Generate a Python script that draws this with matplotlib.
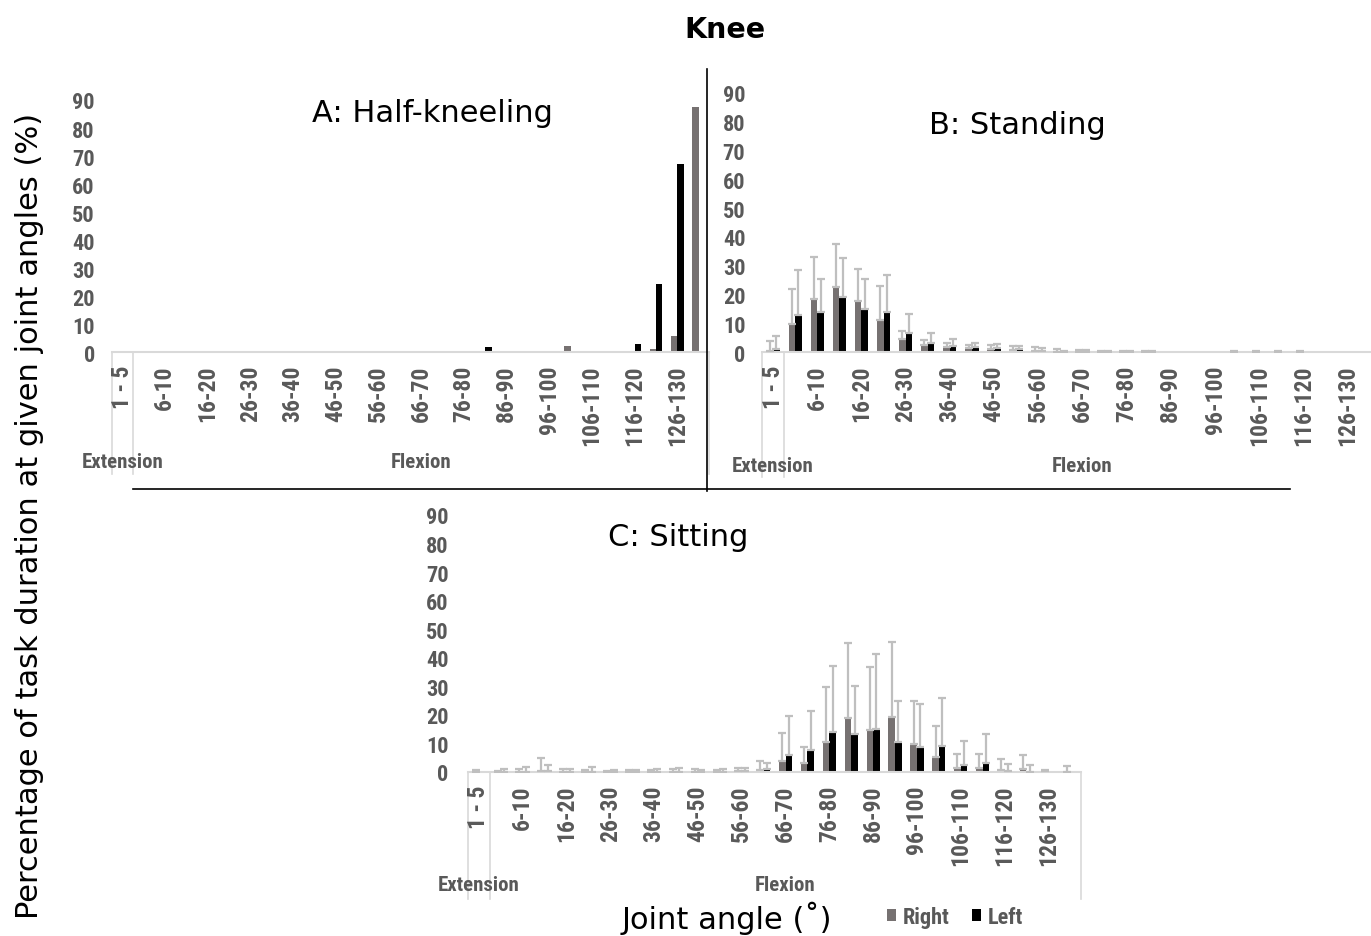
import numpy as np
import matplotlib
matplotlib.use("Agg")
import matplotlib.pyplot as plt
from matplotlib.lines import Line2D
from matplotlib import font_manager

# ---- categories: one extension bin followed by flexion bins ----
categories = ["1 - 5", "1-5", "6-10", "11-15", "16-20", "21-25", "26-30", "31-35",
              "36-40", "41-45", "46-50", "51-55", "56-60", "61-65", "66-70", "71-75",
              "76-80", "81-85", "86-90", "91-95", "96-100", "101-105", "106-110",
              "111-115", "116-120", "121-125", "126-130", "131-135"]
tick_labels = categories[0::2]
y_ticks = [0, 10, 20, 30, 40, 50, 60, 70, 80, 90]

# ---- A: half-kneeling (mean % of task duration) ----
kneel_right = [0, 0, 0, 0, 0, 0, 0, 0, 0, 0, 0, 0, 0, 0, 0, 0, 0, 0,
               0.3, 0.3, 0, 2.3, 0.3, 0.3, 0, 1.0, 5.7, 87.5]
kneel_left = [0, 0, 0, 0, 0, 0, 0, 0, 0, 0, 0, 0, 0, 0, 0, 0, 0, 2.0,
              0, 0, 0, 0, 0, 0, 3.0, 24.5, 67.2, 0]

# ---- B: standing (mean and SD) ----
stand_right = [0.5, 9.8, 18.5, 22.6, 17.6, 11.2, 4.4, 2.5, 1.9, 1.3, 1.1, 0.7, 0.2,
               0.1, 0.1, 0.05, 0.05, 0.05, 0, 0, 0, 0.05, 0.05, 0.05, 0.05, 0, 0, 0]
stand_right_sd = [3.3, 12.0, 14.5, 14.8, 11.2, 11.8, 3.0, 1.7, 1.1, 1.2, 1.3, 1.5, 1.7,
                  1.1, 0.7, 0.3, 0.3, 0.2, 0, 0, 0, 0.3, 0.3, 0.3, 0.3, 0, 0, 0]
stand_left = [1.0, 12.7, 14.0, 19.2, 15.1, 13.8, 6.7, 3.2, 2.2, 1.7, 1.4, 1.1, 0.5,
              0.1, 0.1, 0.1, 0.1, 0.1, 0, 0, 0, 0, 0, 0, 0, 0, 0, 0]
stand_left_sd = [4.4, 15.8, 11.3, 13.5, 10.2, 12.8, 6.5, 3.3, 2.3, 1.4, 1.4, 1.1, 1.0,
                 0.3, 0.6, 0.3, 0.3, 0.2, 0, 0, 0, 0, 0, 0, 0, 0, 0, 0]

# ---- C: sitting (mean and SD) ----
sit_right = [0.05, 0.05, 0.1, 0.5, 0.1, 0.1, 0.05, 0.1, 0.1, 0.1, 0.1, 0.1, 0.2, 0.8,
             3.9, 3.2, 10.6, 18.9, 14.7, 19.2, 9.9, 5.3, 1.5, 1.3, 0.6, 1.0, 0.3, 0.1]
sit_right_sd = [0.6, 0.2, 1.1, 4.5, 0.9, 0.6, 0.4, 0.6, 0.6, 0.9, 0.9, 0.6, 1.3, 3.2,
                9.7, 5.4, 19.0, 26.2, 21.9, 26.3, 14.8, 10.8, 4.7, 4.9, 3.9, 4.8, 0.3, 1.9]
sit_left = [0, 0.05, 0.1, 0.5, 0.1, 0.1, 0.05, 0.1, 0.1, 0.1, 0.1, 0.1, 0.5, 1.0,
            6.1, 7.7, 14.1, 13.4, 15.0, 10.6, 8.6, 9.0, 2.6, 3.3, 0.5, 0.1, 0, 0]
sit_left_sd = [0, 0.9, 1.8, 2.1, 0.9, 1.5, 0.5, 0.6, 1.0, 1.2, 0.5, 0.9, 1.0, 2.3,
               13.4, 13.8, 23.0, 16.8, 26.4, 14.4, 15.2, 17.0, 8.1, 9.9, 2.2, 2.2, 0, 0]

W, H = 1371, 937
RIGHT_C = "#767171"
LEFT_C = "#000000"
ERR_C = "#bfbfbf"
TXT_C = "#595959"
AXIS_C = "#d9d9d9"

# narrow bold face for axis labels; pick the first one that is installed
_available = {f.name for f in font_manager.fontManager.ttflist}
_condensed = ("Liberation Sans Narrow", "DejaVu Sans Condensed", "Roboto Condensed",
              "Open Sans Condensed")
_narrow_choice = [n for n in _condensed + ("Lato",) if n in _available]
NARROW = _narrow_choice[0] if _narrow_choice else "DejaVu Sans"
_k = 1.0 if NARROW in _condensed else 0.78
XTICK_SIZE = 17 * _k
YTICK_SIZE = 16 * _k
GROUP_SIZE = 15 * _k
LEGEND_SIZE = 16 * _k

fig = plt.figure(figsize=(W / 100, H / 100), dpi=100)
fig.patch.set_facecolor("white")


def add_px_axes(left, top, right, bottom):
    return fig.add_axes([left / W, 1 - bottom / H, (right - left) / W, (bottom - top) / H])


def draw_panel(ax, right, left, right_sd=None, left_sd=None, height_px=250,
               group_drop=110, line_drop=122, ytick_pad=11):
    x = np.arange(len(categories))
    right = np.asarray(right, float)
    left = np.asarray(left, float)
    bw = 0.3
    bars_r = ax.bar(x - bw / 2, right, width=bw, color=RIGHT_C, zorder=2, label="Right")
    bars_l = ax.bar(x + bw / 2, left, width=bw, color=LEFT_C, zorder=2, label="Left")
    for vals, sd, off in ((right, right_sd, -bw / 2), (left, left_sd, bw / 2)):
        if sd is None:
            continue
        sd = np.asarray(sd, float)
        m = sd > 0
        ax.errorbar(x[m] + off, vals[m], yerr=[np.zeros(m.sum()), sd[m]], fmt="none",
                    ecolor=ERR_C, elinewidth=1.6, capsize=2.6, capthick=1.6, zorder=3)
    ax.set_xlim(-0.5, len(categories) - 0.5)
    ax.set_ylim(0, 90)
    ax.set_yticks(y_ticks)
    ax.set_yticklabels([str(v) for v in y_ticks], family=NARROW, fontweight="bold",
                       fontsize=YTICK_SIZE, color=TXT_C)
    ax.set_xticks(np.arange(0, len(categories), 2))
    ax.set_xticklabels(tick_labels, rotation=90, family=NARROW, fontweight="bold",
                       fontsize=XTICK_SIZE, color=TXT_C, va="top", ha="center")
    ax.tick_params(axis="both", length=0)
    ax.tick_params(axis="y", pad=ytick_pad)
    ax.tick_params(axis="x", pad=9)
    for s in ("top", "right", "left"):
        ax.spines[s].set_visible(False)
    ax.spines["bottom"].set_color(AXIS_C)
    ax.spines["bottom"].set_linewidth(1.5)
    ax.set_facecolor("none")
    tr = ax.get_xaxis_transform()
    yl = -line_drop / height_px
    for xv in (-0.5, 0.5, len(categories) - 0.5):
        ax.add_line(Line2D([xv, xv], [0, yl], transform=tr, color=AXIS_C, lw=1.2,
                           clip_on=False, zorder=1))
    yg = -group_drop / height_px
    ax.text(0, yg, "Extension", transform=tr, ha="center", va="center", family=NARROW,
            fontweight="bold", fontsize=GROUP_SIZE, color=TXT_C, zorder=4)
    ax.text((1 + len(categories) - 1) / 2, yg, "Flexion", transform=tr, ha="center",
            va="center", family=NARROW, fontweight="bold", fontsize=GROUP_SIZE,
            color=TXT_C, zorder=4)
    return bars_r, bars_l


# Panel A
axA = add_px_axes(111.5, 101, 111.5 + 28 * 21.35, 353.3)
draw_panel(axA, kneel_right, kneel_left, height_px=252.3, group_drop=109, line_drop=122,
           ytick_pad=12)

# Panel B
axB = add_px_axes(762, 94, 762 + 28 * 22.1, 353)
draw_panel(axB, stand_right, stand_left, stand_right_sd, stand_left_sd, height_px=259,
           group_drop=113, line_drop=125, ytick_pad=12)

# Panel C
axC = add_px_axes(468, 516, 468 + 28 * 21.9, 773)
hr, hl = draw_panel(axC, sit_right, sit_left, sit_right_sd, sit_left_sd, height_px=257,
                    group_drop=113, line_drop=127, ytick_pad=14)

# Panel titles
fig.text(432 / W, 1 - 114 / H, "A: Half-kneeling", ha="center", va="center", fontsize=22)
fig.text(1017 / W, 1 - 126 / H, "B: Standing", ha="center", va="center", fontsize=22)
fig.text(678 / W, 1 - 538 / H, "C: Sitting", ha="center", va="center", fontsize=22)

# Figure title and shared axis titles
fig.text(725 / W, 1 - 30 / H, "Knee", ha="center", va="center", fontsize=20.5,
         fontweight="bold")
fig.text(30 / W, 1 - 516 / H, "Percentage of task duration at given joint angles (%)",
         rotation=90, ha="center", va="center", fontsize=22)
fig.text(727 / W, 1 - 918 / H, "Joint angle (\u02da)", ha="center", va="center", fontsize=22)

# Legend
fig.legend([hr, hl], ["Right", "Left"], loc="center", bbox_to_anchor=(955 / W, 1 - 918 / H),
           ncol=2, frameon=False, handlelength=0.42, handleheight=0.42, handletextpad=0.3,
           columnspacing=1.0, labelcolor=TXT_C,
           prop={"family": NARROW, "weight": "bold", "size": LEGEND_SIZE})

# Panel separators
fig.add_artist(Line2D([706.5 / W, 706.5 / W], [1 - 70 / H, 1 - 492 / H], color="black", lw=1.2))
fig.add_artist(Line2D([133 / W, 1290 / W], [1 - 490 / H, 1 - 490 / H], color="black", lw=1.2))

fig.savefig("out.png", dpi=100, facecolor="white")
